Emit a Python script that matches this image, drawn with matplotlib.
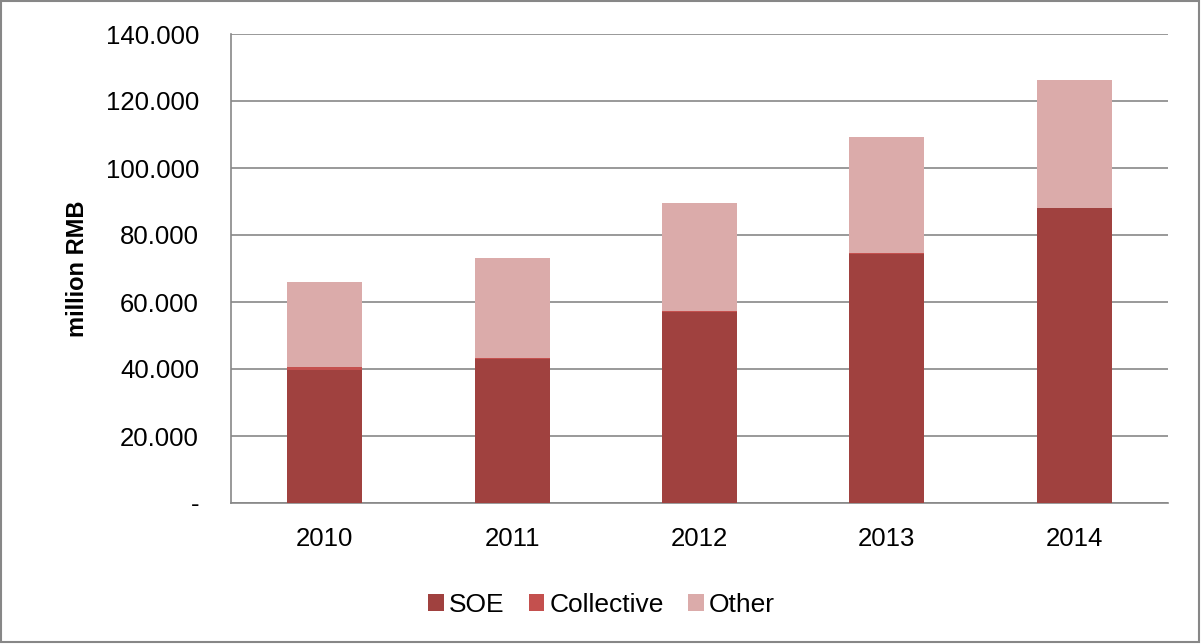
import numpy as np
import matplotlib
matplotlib.use("Agg")
import matplotlib.pyplot as plt
from matplotlib.ticker import FuncFormatter
from matplotlib.patches import Rectangle

plt.rcParams['font.family'] = ['Liberation Sans', 'DejaVu Sans']

# data (million RMB)
years = ['2010', '2011', '2012', '2013', '2014']
soe = [39800, 43000, 57100, 74300, 88000]
collective = [800, 300, 300, 200, 150]
other = [25400, 29900, 32100, 34800, 38100]

colors = {'SOE': '#A0413F', 'Collective': '#C4504E', 'Other': '#DBABAA'}

fig = plt.figure(figsize=(12.03, 6.44), dpi=100)
ax = fig.add_axes([231 / 1203, 1 - 503 / 644, (1168 - 231) / 1203, (503 - 34) / 644])

x = np.arange(len(years))
w = 0.4
soe_a = np.array(soe)
col_a = np.array(collective)
oth_a = np.array(other)
ax.bar(x, soe_a, w, color=colors['SOE'], label='SOE', zorder=3)
ax.bar(x, col_a, w, bottom=soe_a, color=colors['Collective'], label='Collective', zorder=3)
ax.bar(x, oth_a, w, bottom=soe_a + col_a, color=colors['Other'], label='Other', zorder=3)

ax.set_xlim(-0.5, len(years) - 0.5)
ax.set_ylim(0, 140000)
ax.set_yticks(np.arange(0, 140001, 20000))
ax.yaxis.set_major_formatter(FuncFormatter(lambda v, p: '-' if v == 0 else '{:.3f}'.format(v / 1000)))
ax.set_xticks(x)
ax.set_xticklabels(years)
ax.tick_params(axis='both', length=0, labelsize=18.5)
ax.tick_params(axis='y', pad=23)
ax.tick_params(axis='x', pad=17)
ax.grid(axis='y', color='#878787', linewidth=1.2, zorder=0)
for s in ['top', 'right']:
    ax.spines[s].set_visible(False)
for s in ['left', 'bottom']:
    ax.spines[s].set_color('#878787')
    ax.spines[s].set_linewidth(1.2)
ax.set_ylabel('million RMB', fontsize=17, fontweight='bold', labelpad=12)

fig.legend(loc='center', bbox_to_anchor=(0.5, 1 - 605 / 644), ncol=3, frameon=False,
           fontsize=19, handlelength=0.6, handleheight=0.6, handletextpad=0.2,
           columnspacing=0.9)

fig.patches.append(Rectangle((0.001, 0.003), 0.996, 0.995, transform=fig.transFigure,
                             fill=False, edgecolor='#878787', linewidth=1.5))

fig.savefig('out.png', dpi=100)
